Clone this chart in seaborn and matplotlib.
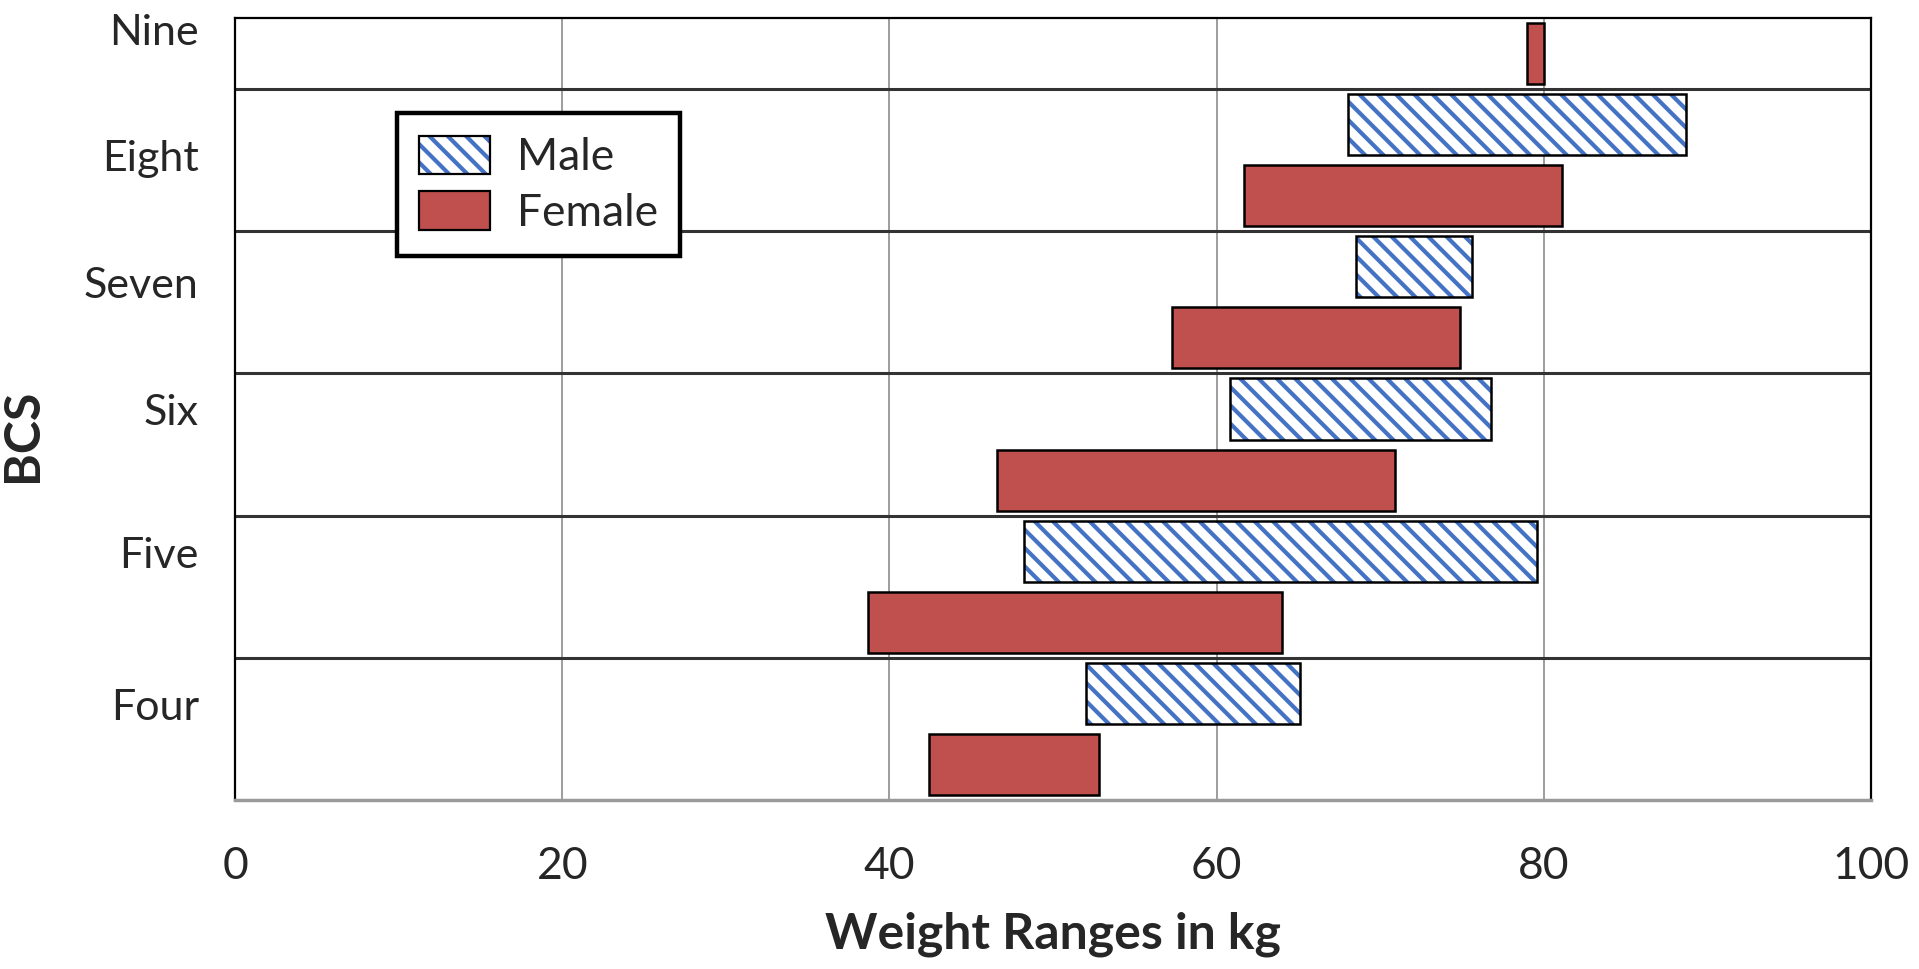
import numpy as np
import pandas as pd
import matplotlib
matplotlib.use("Agg")
import matplotlib.pyplot as plt
import seaborn as sns
from matplotlib.patches import Patch
from matplotlib.legend_handler import HandlerTuple

# ---- data ----
categories = ["Nine", "Eight", "Seven", "Six", "Five", "Four"]
male_low = [np.nan, 68.0, 68.5, 60.8, 48.2, 52.0]
male_high = [np.nan, 88.7, 75.6, 76.8, 79.6, 65.1]
female_low = [79.0, 61.7, 57.3, 46.6, 38.7, 42.4]
female_high = [80.0, 81.1, 74.9, 70.9, 64.0, 52.8]
x_ticks = [0, 20, 40, 60, 80, 100]

DPI = 110
K = 100.0 / DPI

sns.set_theme(style="white")
plt.rcParams["font.family"] = ["Lato", "DejaVu Sans"]
plt.rcParams["hatch.linewidth"] = 3.0 * K

MALE_BLUE = "#4472C4"
FEMALE_RED = "#C0504D"

rows = []
for c, ml, mh, fl, fh in zip(categories, male_low, male_high, female_low, female_high):
    if not np.isnan(ml):
        rows.append((c, "Male", ml, mh))
    rows.append((c, "Female", fl, fh))
df = pd.DataFrame(rows, columns=["BCS", "Sex", "low", "high"])
df["row"] = np.arange(len(df))

fig, ax = plt.subplots(figsize=(1920 / DPI, 969 / DPI), dpi=DPI)
fig.subplots_adjust(left=0.1224, right=0.9745, top=0.9814, bottom=0.1744)

bh = 0.86
m = df[df["Sex"] == "Male"]
f = df[df["Sex"] == "Female"]
ax.barh(m["row"], m["high"] - m["low"], left=m["low"], height=bh,
        facecolor="white", edgecolor=MALE_BLUE, hatch="\\\\", linewidth=0, zorder=3)
ax.barh(m["row"], m["high"] - m["low"], left=m["low"], height=bh,
        fill=False, edgecolor="black", linewidth=1.8 * K, zorder=4)
ax.barh(f["row"], f["high"] - f["low"], left=f["low"], height=bh,
        facecolor=FEMALE_RED, edgecolor="black", linewidth=1.8 * K, zorder=3)

cat_last_row = df.groupby("BCS", sort=False)["row"].max().values
for r in cat_last_row[:-1]:
    ax.axhline(r + 0.5, color="#333333", linewidth=2.2 * K, zorder=2)

ax.set_xlim(0, 100)
ax.set_ylim(len(df) - 0.5, -0.5)
ax.set_xticks(x_ticks)
ax.set_xticklabels([str(v) for v in x_ticks], fontsize=32 * K)
ax.tick_params(axis="x", length=0, pad=33 * K)

label_pos = [-0.34, 1.43, 3.22, 5.0, 7.02, 9.16]
ax.set_yticks(label_pos)
ax.set_yticklabels(categories, fontsize=31 * K)
ax.tick_params(axis="y", length=0, pad=26 * K)

ax.grid(axis="x", color="#8c8c8c", linewidth=1.2 * K, zorder=0)
ax.set_axisbelow(True)
for s in ["left", "right", "top"]:
    ax.spines[s].set_color("black")
    ax.spines[s].set_linewidth(1.6 * K)
ax.spines["bottom"].set_color("#9a9a9a")
ax.spines["bottom"].set_linewidth(2.5 * K)

ax.set_xlabel("Weight Ranges in kg", fontsize=36 * K, fontweight="bold")
ax.set_ylabel("BCS", fontsize=36 * K, fontweight="bold")
ax.xaxis.set_label_coords(0.5, -0.143)
ax.yaxis.set_label_coords(-0.116, 0.467)

male_h = (Patch(facecolor="white", edgecolor=MALE_BLUE, hatch="\\\\", linewidth=0),
          Patch(fill=False, edgecolor="black", linewidth=1.6 * K))
female_h = Patch(facecolor=FEMALE_RED, edgecolor="black", linewidth=1.6 * K)
leg = ax.legend(handles=[male_h, female_h], labels=["Male", "Female"],
                handler_map={tuple: HandlerTuple(ndivide=1, pad=0)},
                loc="upper left", bbox_to_anchor=(0.099, 0.878),
                borderaxespad=0, fontsize=32 * K, frameon=True, fancybox=False,
                framealpha=1, edgecolor="black", handlelength=1.6, handleheight=0.95,
                borderpad=0.5, labelspacing=0.3, handletextpad=0.6)
leg.get_frame().set_linewidth(3.2 * K)

fig.savefig("out.png", dpi=DPI)
